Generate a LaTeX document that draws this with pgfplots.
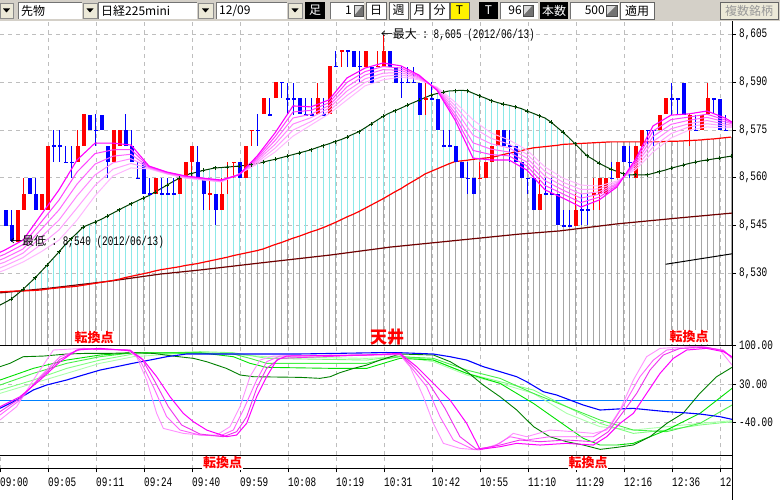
\documentclass[border=0pt]{standalone}
\usepackage{fontspec}
\setmainfont{Liberation Sans}
\newfontfamily\cjk{Noto Sans CJK JP}
\newfontfamily\monot[FakeStretch=0.72]{Liberation Mono}
\usepackage{pgfplots}
\usepackage{pgfplotstable}
\pgfplotsset{compat=1.18}

\definecolor{tbg}{RGB}{212,208,200}
\definecolor{btn}{RGB}{236,233,216}
\definecolor{vgray}{RGB}{166,166,166}
\definecolor{vcyan}{RGB}{140,232,232}
\definecolor{dkgreen}{RGB}{0,64,0}
\definecolor{maroon}{RGB}{112,0,0}
\definecolor{cred}{RGB}{255,0,0}
\definecolor{cblue}{RGB}{0,0,255}
\definecolor{fan0}{RGB}{255,0,255}
\definecolor{fan1}{RGB}{255,64,255}
\definecolor{fan2}{RGB}{255,102,255}
\definecolor{fan3}{RGB}{255,136,255}
\definecolor{fan4}{RGB}{255,160,255}
\definecolor{fan5}{RGB}{255,184,255}
\definecolor{zeroblue}{RGB}{0,128,255}
\definecolor{gridgray}{RGB}{190,190,190}
\definecolor{oscdg}{RGB}{0,128,0}
\definecolor{g1}{RGB}{0,225,0}
\definecolor{g2}{RGB}{70,240,70}
\definecolor{g3}{RGB}{128,255,128}
\definecolor{g4}{RGB}{170,255,170}
\definecolor{p1}{RGB}{255,144,255}
\definecolor{p2}{RGB}{255,96,255}
\definecolor{p4}{RGB}{240,48,240}
\definecolor{p3}{RGB}{255,0,255}

% candles: i open high low close up(1)/down(0)
\pgfplotstableread{
i o h l c u
0 8550 8550 8545 8545 0
1 8545 8550 8540 8540 0
2 8540 8550 8540 8550 1
3 8550 8560 8550 8555 1
4 8560 8560 8555 8555 0
5 8555 8560 8550 8550 0
6 8550 8555 8550 8555 1
7 8550 8570 8550 8570 1
8 8570 8575 8565 8570 0
9 8570 8575 8565 8570 0
10 8565 8570 8565 8565 0
11 8565 8570 8560 8565 0
12 8565 8575 8565 8570 1
13 8570 8580 8570 8580 1
14 8580 8580 8575 8575 0
15 8575 8580 8570 8575 0
16 8580 8580 8575 8575 0
17 8570 8570 8560 8565 0
18 8565 8575 8565 8575 1
19 8570 8575 8570 8575 1
20 8575 8580 8570 8570 0
21 8570 8575 8565 8565 0
22 8560 8565 8560 8560 0
23 8565 8565 8555 8555 0
24 8555 8560 8555 8555 0
25 8555 8560 8555 8560 1
26 8555 8560 8555 8555 0
27 8555 8560 8555 8555 0
28 8555 8560 8555 8555 0
29 8555 8560 8555 8560 1
30 8560 8565 8560 8565 1
31 8565 8570 8560 8570 1
32 8565 8570 8560 8560 0
33 8560 8560 8550 8555 0
34 8555 8560 8550 8555 1
35 8555 8555 8545 8550 0
36 8550 8560 8550 8555 1
37 8560 8565 8555 8560 1
38 8565 8565 8560 8565 1
39 8565 8565 8560 8560 0
40 8560 8570 8560 8570 1
41 8575 8575 8570 8575 1
42 8575 8580 8570 8575 0
43 8580 8585 8580 8585 1
44 8580 8585 8580 8580 0
45 8585 8590 8585 8590 1
46 8590 8590 8585 8590 0
47 8585 8590 8580 8585 0
48 8585 8590 8580 8585 0
49 8585 8585 8580 8580 0
50 8580 8585 8580 8580 0
51 8580 8585 8580 8580 0
52 8580 8590 8580 8585 1
53 8580 8585 8580 8580 0
54 8580 8595 8580 8595 1
55 8595 8600 8595 8595 0
56 8600 8600 8595 8600 1
57 8600 8600 8595 8600 0
58 8600 8600 8595 8595 0
59 8595 8600 8590 8595 0
60 8595 8600 8595 8600 1
61 8595 8595 8590 8590 0
62 8595 8600 8595 8595 1
63 8595 8605 8595 8600 1
64 8600 8600 8595 8595 0
65 8595 8595 8590 8590 0
66 8590 8595 8585 8590 0
67 8590 8595 8590 8590 0
68 8590 8595 8590 8590 0
69 8590 8590 8580 8580 0
70 8585 8590 8580 8585 1
71 8585 8590 8585 8585 0
72 8585 8585 8575 8575 0
73 8570 8575 8570 8570 0
74 8570 8575 8570 8570 0
75 8570 8570 8565 8565 0
76 8565 8565 8560 8560 0
77 8560 8565 8555 8560 0
78 8560 8560 8555 8555 0
79 8560 8565 8560 8560 1
80 8560 8565 8560 8565 1
81 8565 8570 8565 8570 1
82 8570 8575 8570 8575 1
83 8575 8575 8570 8570 0
84 8570 8575 8565 8570 0
85 8570 8570 8565 8565 0
86 8565 8565 8560 8560 0
87 8560 8560 8555 8560 0
88 8560 8560 8550 8550 0
89 8550 8560 8550 8555 1
90 8555 8560 8555 8555 0
91 8555 8560 8555 8555 0
92 8555 8555 8545 8545 0
93 8545 8550 8545 8545 0
94 8545 8550 8545 8545 0
95 8545 8555 8545 8550 1
96 8550 8555 8545 8550 0
97 8550 8555 8545 8550 0
98 8555 8560 8550 8555 1
99 8555 8560 8550 8560 1
100 8555 8560 8555 8560 1
101 8560 8565 8560 8560 0
102 8560 8565 8560 8565 1
103 8570 8570 8565 8565 0
104 8565 8570 8560 8565 0
105 8560 8570 8560 8570 1
106 8570 8575 8565 8575 1
107 8575 8575 8570 8575 0
108 8575 8575 8570 8575 0
109 8575 8580 8575 8580 1
110 8580 8585 8580 8585 1
111 8585 8590 8580 8585 0
112 8585 8585 8580 8585 0
113 8590 8590 8580 8580 0
114 8575 8580 8570 8580 1
115 8575 8580 8575 8575 0
116 8575 8580 8575 8580 1
117 8580 8590 8580 8585 1
118 8585 8585 8580 8585 0
119 8585 8585 8575 8575 0
120 8575 8580 8575 8575 0
}\candles

% per-bar long moving averages: r = red MA, g = dark green MA
\pgfplotstableread{
i r g
-1 8524.1 8519.8
0 8524.2 8520.8
1 8524.3 8521.8
2 8524.4 8523.3
3 8524.4 8524.9
4 8524.5 8526.7
5 8524.6 8528.5
6 8524.7 8530.5
7 8525.0 8532.5
8 8525.2 8534.6
9 8525.4 8536.7
10 8525.6 8538.9
11 8525.7 8540.8
12 8525.9 8542.6
13 8526.2 8544.5
14 8526.5 8545.3
15 8526.8 8546.1
16 8527.1 8546.9
17 8527.4 8547.9
18 8527.7 8548.9
19 8528.1 8549.9
20 8528.6 8550.9
21 8529.0 8551.8
22 8529.4 8552.7
23 8529.8 8553.6
24 8530.2 8554.4
25 8530.7 8555.5
26 8531.1 8556.6
27 8531.4 8557.7
28 8531.7 8558.8
29 8532.0 8559.8
30 8532.4 8560.8
31 8532.7 8561.3
32 8533.0 8561.8
33 8533.4 8562.3
34 8533.8 8562.7
35 8534.2 8563.1
36 8534.6 8563.2
37 8535.0 8563.4
38 8535.5 8563.5
39 8535.9 8563.7
40 8536.3 8563.9
41 8536.7 8564.1
42 8537.1 8564.5
43 8537.6 8564.9
44 8538.3 8565.4
45 8539.0 8565.8
46 8539.6 8566.3
47 8540.3 8566.8
48 8541.0 8567.3
49 8541.6 8567.8
50 8542.3 8568.3
51 8543.0 8568.8
52 8543.6 8569.5
53 8544.3 8570.1
54 8545.1 8570.7
55 8545.9 8571.4
56 8546.8 8572.0
57 8547.7 8572.8
58 8548.5 8573.7
59 8549.4 8574.5
60 8550.4 8575.7
61 8551.4 8576.9
62 8552.4 8578.1
63 8553.4 8579.3
64 8554.5 8580.3
65 8555.6 8581.1
66 8556.6 8581.9
67 8557.8 8582.8
68 8558.9 8583.6
69 8560.0 8584.4
70 8561.2 8585.2
71 8562.0 8586.0
72 8562.8 8586.5
73 8563.6 8586.9
74 8564.4 8587.3
75 8565.1 8587.4
76 8565.3 8587.5
77 8565.5 8587.4
78 8565.8 8586.6
79 8566.0 8585.8
80 8566.2 8585.1
81 8566.4 8584.3
82 8566.8 8583.7
83 8567.3 8583.2
84 8567.7 8582.8
85 8568.1 8582.3
86 8568.5 8581.8
87 8569.0 8581.0
88 8569.4 8580.3
89 8569.6 8579.5
90 8569.8 8578.8
91 8570.0 8577.5
92 8570.2 8575.9
93 8570.5 8574.3
94 8570.6 8572.6
95 8570.7 8570.7
96 8570.8 8568.8
97 8570.9 8566.9
98 8571.0 8565.8
99 8571.1 8564.6
100 8571.2 8563.6
101 8571.3 8562.7
102 8571.3 8562.0
103 8571.3 8561.3
104 8571.3 8560.9
105 8571.3 8560.9
106 8571.3 8560.9
107 8571.3 8560.9
108 8571.3 8561.4
109 8571.3 8561.9
110 8571.4 8562.4
111 8571.5 8563.0
112 8571.5 8563.5
113 8571.6 8564.0
114 8571.7 8564.5
115 8571.8 8564.9
116 8571.9 8565.3
117 8572.1 8565.6
118 8572.2 8565.9
119 8572.4 8566.2
120 8572.6 8566.5
121 8572.8 8566.8
}\bars

% short moving-average fan (fast F ... slow S)
\pgfplotstableread{
i F L1 L2 L3 L4 S
-0.9 8536.5 8535.3 8534.1 8532.9 8531.6 8530.4
0 8537.3 8536.0 8534.8 8533.5 8532.3 8531.0
3 8540.4 8539.0 8537.6 8536.3 8534.9 8533.5
6 8548.3 8546.0 8543.7 8541.3 8539.0 8536.7
9 8556.2 8553.0 8549.9 8546.7 8543.6 8540.4
12 8565.6 8561.8 8558.0 8554.3 8550.5 8546.7
15 8570.9 8567.6 8564.3 8560.9 8557.6 8554.3
18 8570.9 8568.8 8566.8 8564.7 8562.7 8560.6
21 8570.3 8568.9 8567.4 8566.0 8564.5 8563.1
24 8563.7 8563.5 8563.3 8563.2 8563.0 8562.8
27 8561.8 8561.7 8561.6 8561.4 8561.3 8561.2
30 8560.6 8560.5 8560.3 8560.2 8560.0 8559.9
33 8559.9 8559.8 8559.7 8559.5 8559.4 8559.3
36 8559.3 8559.2 8559.1 8558.9 8558.8 8558.7
39 8560.9 8561.0 8561.0 8561.1 8561.1 8561.2
42 8566.8 8566.3 8565.8 8565.3 8564.8 8564.3
45 8574.1 8572.9 8571.7 8570.5 8569.3 8568.1
48 8582.6 8580.7 8578.8 8576.9 8575.0 8573.1
51 8582.3 8581.2 8580.0 8578.9 8577.7 8576.6
54 8584.5 8583.6 8582.7 8581.9 8581.0 8580.1
57 8591.4 8590.0 8588.6 8587.3 8585.9 8584.5
60 8594.5 8593.4 8592.3 8591.1 8590.0 8588.9
63 8596.1 8595.0 8594.0 8592.9 8591.9 8590.8
66 8595.2 8594.5 8593.8 8593.1 8592.4 8591.7
69 8592.3 8592.0 8591.7 8591.4 8591.1 8590.8
72 8587.5 8587.7 8587.9 8588.1 8588.3 8588.5
75 8578.2 8579.3 8580.4 8581.6 8582.7 8583.8
78 8566.2 8568.6 8571.0 8573.4 8575.8 8578.2
81 8565.6 8567.3 8569.0 8570.7 8572.4 8574.1
84 8565.6 8566.9 8568.1 8569.4 8570.6 8571.9
87 8562.4 8563.7 8564.9 8566.2 8567.4 8568.7
90 8556.2 8557.6 8559.1 8560.5 8562.0 8563.4
93 8553.6 8554.9 8556.1 8557.4 8558.6 8559.9
96 8550.8 8552.2 8553.6 8554.9 8556.3 8557.7
99 8553.0 8553.9 8554.8 8555.6 8556.5 8557.4
102 8557.1 8557.5 8557.9 8558.2 8558.6 8559.0
105 8565.6 8565.0 8564.3 8563.7 8563.0 8562.4
108 8576.3 8574.7 8573.0 8571.4 8569.7 8568.1
111 8579.7 8578.3 8576.8 8575.4 8573.9 8572.5
114 8580.1 8579.1 8578.1 8577.0 8576.0 8575.0
117 8581.0 8580.0 8579.0 8578.0 8577.0 8576.0
120 8578.8 8578.2 8577.6 8576.9 8576.3 8575.7
121.2 8577.5 8577.2 8576.9 8576.5 8576.2 8575.9
}\fan

\pgfplotstableread{
i p
-0.83 8523.8
7.5 8525.3
17.5 8527.5
25.8 8529.7
32.5 8531.0
42.5 8533.2
54.2 8535.7
64.2 8538.2
74.2 8540.1
85.8 8542.3
92.5 8543.3
102 8545.5
112.5 8547.4
121.2 8548.9
}\brownma

\pgfplotsset{
 base/.style={scale only axis, anchor=south west, width=732pt,
   xmin=-0.8333, xmax=121.1667, axis line style={draw=none},
   xtick style={draw=none},
   ytick pos=right, yticklabel pos=right, tick align=outside,
   major tick length=4pt,
   ytick style={black, line width=0.8pt},
   yticklabel style={font=\monot\fontsize{13}{13}\selectfont, anchor=west, inner sep=0pt, xshift=3pt},
   major grid style={gridgray, dash pattern=on 4pt off 4pt, line width=0.9pt},
   clip=true},
}

\newcommand\tbfield[2]{\fill[white] (#1,481) rectangle (#2,498);
  \draw[line width=0.8pt, black!55] (#1,481.4) -- (#1,497.6) -- (#2,497.6);}
\newcommand\tbdrop[2]{\fill[btn] (#1,482) rectangle (#2,497);
  \draw[black!45, line width=0.6pt] (#1,482) rectangle (#2,497);
  \fill[black] ({(#1+#2)/2-3.5},491.5) -- ({(#1+#2)/2+3.5},491.5) -- ({(#1+#2)/2},487.5) -- cycle;}
\newcommand\tbbtn[3]{\fill[#3] (#1,481) rectangle (#2,498);
  \draw[black!60, line width=0.7pt] (#1,481) rectangle (#2,498);}
\newcommand\tbspin[2]{\fill[black!15] (#1,484) rectangle (#2,495);
  \fill[black!55] (#2,484) -- (#2,495) -- (#1,484) -- cycle;
  \draw[black!70, line width=0.5pt] (#1,484) rectangle (#2,495);}

\begin{document}
\begin{tikzpicture}[x=1pt,y=1pt]
\useasboundingbox (0,0) rectangle (780,500);
\fill[white] (0,0) rectangle (780,500);

% ---------- upper price panel ----------
\begin{axis}[base, at={(0pt,154.3pt)}, height=324.7pt, ymin=8507.19, ymax=8609.31,
  xtick={7.1667,15.1667,23.1667,31.1667,39.1667,47.1667,55.1667,63.1667,71.1667,79.1667,87.1667,95.1667,103.1667,111.1667,119.1667},
  xticklabels={},
  ytick={8530,8545,8560,8575,8590,8605},
  yticklabels={{8,530},{8,545},{8,560},{8,575},{8,590},{8,605}},
  xmajorgrids, ymajorgrids]
% vertical background lines: gray up to the red MA, cyan from the red MA up to the green MA
\addplot[draw=none, forget plot, error bars/.cd, y dir=minus, y explicit, error mark=none,
  error bar style={draw=vgray, line width=1pt}]
  table[x expr={\thisrow{i}+0.0833}, y=r, y error minus expr={\thisrow{r}-8500}]{\bars};
\addplot[draw=none, forget plot, error bars/.cd, y dir=minus, y explicit, error mark=none,
  error bar style={draw=vcyan, line width=1pt}]
  table[x expr={\thisrow{i}+0.0833}, y=g, y error minus expr={max(\thisrow{g}-\thisrow{r},0)}]{\bars};
% long moving averages
\addplot[maroon, line width=1.2pt] table[x=i,y=p]{\brownma};
\addplot[cred, line width=1.2pt] table[x=i,y=r]{\bars};
\addplot[black, line width=1pt] coordinates {(110.1,8532.8) (121.2,8536.1)};
\addplot[dkgreen, line width=1pt] table[x=i,y=g]{\bars};
\addplot[only marks, mark=+, mark size=2pt, mark options={draw=dkgreen, line width=0.9pt},
  each nth point=2, filter discard warning=false] table[x=i,y=g]{\bars};
% candles: wicks
\addplot[draw=none, forget plot, restrict expr to domain={\thisrow{u}}{1:1},
  error bars/.cd, y dir=both, y explicit, error mark=none, error bar style={draw=cred, line width=1pt}]
  table[x expr={\thisrow{i}+0.0833}, y expr={(\thisrow{h}+\thisrow{l})/2}, y error expr={(\thisrow{h}-\thisrow{l})/2}]{\candles};
\addplot[draw=none, forget plot, restrict expr to domain={\thisrow{u}}{0:0},
  error bars/.cd, y dir=both, y explicit, error mark=none, error bar style={draw=cblue, line width=1pt}]
  table[x expr={\thisrow{i}+0.0833}, y expr={(\thisrow{h}+\thisrow{l})/2}, y error expr={(\thisrow{h}-\thisrow{l})/2}]{\candles};
% candles: bodies
\addplot[draw=none, forget plot, restrict expr to domain={\thisrow{u}}{1:1},
  error bars/.cd, y dir=both, y explicit, error mark=none, error bar style={draw=cred, line width=4pt}]
  table[x expr={\thisrow{i}+0.0833}, y expr={(\thisrow{o}+\thisrow{c})/2}, y error expr={max(abs(\thisrow{o}-\thisrow{c})/2,0.17)}]{\candles};
\addplot[draw=none, forget plot, restrict expr to domain={\thisrow{u}}{0:0},
  error bars/.cd, y dir=both, y explicit, error mark=none, error bar style={draw=cblue, line width=4pt}]
  table[x expr={\thisrow{i}+0.0833}, y expr={(\thisrow{o}+\thisrow{c})/2}, y error expr={max(abs(\thisrow{o}-\thisrow{c})/2,0.17)}]{\candles};
% fan
\addplot[fan5, line width=1pt] table[x=i,y=S]{\fan};
\addplot[fan4, line width=1pt] table[x=i,y=L4]{\fan};
\addplot[fan3, line width=1pt] table[x=i,y=L3]{\fan};
\addplot[fan2, line width=1pt] table[x=i,y=L2]{\fan};
\addplot[fan1, line width=1pt] table[x=i,y=L1]{\fan};
\addplot[fan0, line width=1.1pt] table[x=i,y=F]{\fan};
\node[anchor=west, inner sep=0pt] at (axis cs:62.6,8605) {{\cjk\fontsize{12}{12}\selectfont ←最大}{\monot\fontsize{13}{13}\selectfont\ :\ 8,605\ (2012/06/13)}};
\node[anchor=west, inner sep=0pt] at (axis cs:0.8,8540) {{\cjk\fontsize{12}{12}\selectfont ←最低}{\monot\fontsize{13}{13}\selectfont\ :\ 8,540\ (2012/06/13)}};
\end{axis}

% ---------- lower oscillator panel ----------
\begin{axis}[base, at={(0pt,44.7pt)}, height=109.6pt, ymin=-100, ymax=100,
  xtick={7.1667,15.1667,23.1667,31.1667,39.1667,47.1667,55.1667,63.1667,71.1667,79.1667,87.1667,95.1667,103.1667,111.1667,119.1667},
  xticklabels={},
  ytick={-40,30,100}, yticklabels={-40.00,30.00,100.00},
  xmajorgrids, ymajorgrids]
\addplot[zeroblue, line width=1pt] coordinates {(-1,0) (122,0)};
\addplot[g4, line width=0.9pt] coordinates {(-0.83,13.0) (4.72,31.3) (10.28,49.5) (15.83,67.8) (21.39,79.9) (32.5,88.4) (43.61,79.9) (60.28,76.9) (65.83,79.9) (71.39,70.8) (76.94,46.5) (82.5,31.3) (88.06,13.0) (93.61,-23.5) (99.17,-47.8) (104.72,-53.9) (110.28,-47.8) (115.83,-41.7) (121.17,-36.9)};
\addplot[g3, line width=0.9pt] coordinates {(-0.83,19.1) (4.72,37.3) (10.28,58.6) (15.83,73.8) (21.39,84.8) (32.5,89.1) (38.06,87.2) (43.61,76.9) (60.28,73.8) (65.83,81.1) (71.39,73.8) (76.94,49.5) (82.5,34.3) (88.06,19.1) (93.61,-11.3) (99.17,-41.7) (104.72,-60.0) (110.28,-53.9) (115.83,-44.7) (121.17,-38.7)};
\addplot[g2, line width=0.9pt] coordinates {(-0.83,28.2) (4.72,49.5) (10.28,67.8) (15.83,79.9) (21.39,87.2) (38.06,84.8) (40.83,76.9) (43.61,67.8) (60.28,67.8) (63.06,75.1) (65.83,79.9) (71.39,76.9) (76.94,55.6) (82.5,40.4) (88.06,13.0) (93.61,-11.3) (99.17,-35.6) (104.72,-53.9) (110.28,-56.9) (115.83,-41.7) (121.17,-8.3)};
\addplot[g1, line width=0.9pt] coordinates {(-0.83,37.3) (4.72,58.6) (10.28,73.8) (15.83,83.0) (21.39,87.2) (32.5,87.2) (38.06,79.9) (40.83,67.8) (43.61,60.5) (54.72,58.6) (60.28,58.6) (63.06,67.8) (65.83,76.9) (71.39,73.8) (76.94,49.5) (82.5,31.3) (88.06,-5.2) (93.61,-47.8) (96.39,-69.1) (99.17,-81.3) (101.94,-81.3) (104.72,-78.2) (107.5,-66.1) (110.28,-53.9) (115.83,-23.5) (121.17,22.1)};
\addplot[oscdg, line width=0.9pt] coordinates {(-0.83,61.7) (0.83,67.8) (3.05,79.9) (6.4,81.1) (10.3,84.8) (13.6,86.0) (17.5,86.0) (21.4,87.2) (24.7,86.0) (28,81.1) (31.4,76.9) (33.6,70.8) (36.9,58.6) (39.2,46.5) (41.4,43.4) (49.2,42.2) (52.5,40.4) (54.2,43.4) (55.8,50.7) (58.1,58.6) (60.3,64.7) (62.5,73.8) (65.8,84.8) (71.4,83.0) (74.2,70.8) (77,52.6) (79.7,28.2) (82.5,6.9) (85.3,-17.4) (88.1,-47.8) (90.8,-66.1) (93.6,-75.2) (96.4,-81.3) (99.2,-89.2) (102,-85.5) (104.7,-81.3) (107.5,-66.1) (110.3,-41.7) (113,-23.5) (115.8,13.0) (118.6,43.4) (121.17,60.5)};
\addplot[cblue, line width=1.1pt] coordinates {(-0.83,-14.2) (1.95,0.9) (4.72,19.2) (6.95,28.3) (10.28,37.4) (13,46.4) (15.83,55.5) (18.6,61.7) (21.3,67.9) (24.2,73.9) (26.95,79.9) (30.3,84.9) (49.2,84.9) (63.6,87.5) (65.83,87.2) (71.39,84.8) (74.17,79.9) (76.94,73.8) (79.72,61.7) (82.5,52.6) (85.28,43.4) (86.94,34.3) (89.72,16.1) (91.94,10.0) (94.17,0.8) (96.39,-8.3) (99.17,-17.4) (101.94,-15.6) (104.72,-14.4) (107.5,-17.4) (110.28,-20.4) (113.06,-22.3) (115.83,-24.7) (119.17,-29.6) (121.17,-34.4)};
\addplot[p1, line width=0.9pt] coordinates {(-0.83,-35.6) (1.94,-11.3) (4.72,37.3) (8.06,92.1) (13.06,95.1) (20.28,92.1) (21.94,79.9) (23.61,37.3) (25.28,-23.5) (26.39,-50.9) (29.72,-60.0) (32.5,-63.0) (35.28,-63.0) (37.5,-47.8) (39.17,-11.3) (40.83,43.4) (42.5,73.8) (44.72,81.1) (60.28,83.0) (65.83,83.0) (67.5,61.7) (69.72,6.9) (71.39,-41.7) (73.06,-78.2) (75.83,-87.4) (79.17,-90.4) (82.5,-78.2) (84.72,-60.0) (86.94,-66.1) (90.83,-53.9) (94.72,-56.9) (98.06,-60.0) (100.28,-53.9) (102.5,-17.4) (104.72,37.3) (106.94,79.9) (109.17,95.1) (115.83,99.4) (119.17,92.1) (121.17,64.7)};
\addplot[p2, line width=0.9pt] coordinates {(-0.83,-26.5) (2.5,0.8) (5.83,43.4) (9.17,79.9) (13.06,95.1) (20.83,92.1) (22.5,73.8) (24.72,25.2) (26.94,-29.6) (29.17,-53.9) (32.5,-63.0) (35.83,-64.8) (38.06,-53.9) (39.72,-17.4) (41.94,37.3) (43.61,70.8) (45.83,81.1) (60.28,83.0) (65.83,84.8) (68.06,55.6) (70.28,25.2) (72.5,-29.6) (74.72,-72.1) (78.06,-89.2) (81.39,-84.3) (84.17,-66.1) (86.94,-72.1) (90.83,-66.1) (94.72,-66.1) (98.06,-66.1) (100.83,-47.8) (103.61,0.8) (105.83,43.4) (108.06,73.8) (110.28,92.1) (115.83,98.2) (119.72,92.1) (121.17,76.9)};
\addplot[p4, line width=0.9pt] coordinates {(-0.83,-20.4) (2.5,3.9) (5.83,40.4) (9.17,75.1) (12.5,93.9) (20.83,92.1) (22.78,76.9) (25,34.3) (27.22,-11.3) (29.44,-44.7) (32.5,-61.2) (36.39,-66.1) (38.61,-56.9) (40.28,-29.6) (41.94,22.1) (43.61,58.6) (45.83,76.9) (60.28,83.0) (65.83,84.8) (68.33,58.6) (70.83,28.2) (73.33,-14.4) (75.83,-66.1) (78.61,-89.2) (82.5,-81.3) (85.83,-72.1) (89.17,-75.2) (93.61,-72.1) (98.06,-75.2) (100.56,-56.9) (103.06,-20.4) (105.28,13.0) (107.5,55.6) (109.72,83.0) (112.5,95.1) (116.94,97.0) (119.72,90.9) (121.17,78.7)};
\addplot[p3, line width=1pt] coordinates {(-0.83,-11.3) (2.5,6.9) (5.83,37.3) (9.17,70.8) (11.94,92.1) (15.83,95.1) (20.83,90.9) (23.06,73.8) (25.28,43.4) (27.5,6.9) (29.72,-23.5) (31.39,-38.7) (33.61,-53.9) (36.94,-66.1) (38.61,-63.0) (40.28,-41.7) (41.94,6.9) (43.61,43.4) (45.28,73.8) (46.94,81.1) (60.28,83.0) (65.83,86.0) (68.61,61.7) (71.39,31.3) (74.17,0.8) (76.94,-41.7) (79.17,-89.2) (82.5,-84.3) (85.28,-78.2) (89.17,-81.3) (93.61,-78.2) (98.06,-81.3) (100.28,-66.1) (102.5,-41.7) (104.72,-23.5) (106.94,13.0) (109.17,49.5) (111.39,76.9) (113.61,92.1) (116.94,95.1) (119.72,89.1) (121.17,79.9)};
\end{axis}

% ---------- time axis ----------
\begin{axis}[base, at={(0pt,31pt)}, height=13.7pt, ymin=0, ymax=1, ytick=\empty,
  xtick={-0.8333,7.1667,15.1667,23.1667,31.1667,39.1667,47.1667,55.1667,63.1667,71.1667,79.1667,87.1667,95.1667,103.1667,111.1667,119.1667},
  xticklabels={09:00,09:05,09:11,09:24,09:40,09:59,10:08,10:19,10:31,10:42,10:55,11:10,11:29,12:16,12:36,12},
  xtick pos=lower, xmajorgrids, xtick style={draw=black, line width=0.8pt}, major tick length=3.5pt,
  xticklabel style={font=\monot\fontsize{13}{13}\selectfont, anchor=north west, inner sep=0pt, yshift=-5.5pt}]
\addplot[draw=none] coordinates {(0,0.5)};
\end{axis}

% panel borders
\draw[black, line width=1pt] (0,154.3) -- (732,154.3);
\draw[black, line width=1pt] (0,44.7) -- (732,44.7);
\draw[black, line width=1pt] (0,31) -- (732,31);
\draw[black, line width=1pt] (732,0) -- (732,479);

% red annotations
\node[font=\cjk\bfseries\fontsize{13}{13}\selectfont, text=red, fill=white, inner sep=0.8pt] at (94,162) {転換点};
\node[font=\cjk\bfseries\fontsize{13}{13}\selectfont, text=red, fill=white, inner sep=0.8pt] at (689,163) {転換点};
\node[font=\cjk\bfseries\fontsize{13}{13}\selectfont, text=red, fill=white, inner sep=0.8pt] at (222.7,37) {転換点};
\node[font=\cjk\bfseries\fontsize{13}{13}\selectfont, text=red, fill=white, inner sep=0.8pt] at (588,37) {転換点};
\node[font=\cjk\bfseries\fontsize{17}{17}\selectfont, text=red, inner sep=0pt] at (387,163) {天井};

% ---------- toolbar ----------
\fill[tbg] (0,479) rectangle (780,500);
\tbdrop{0}{13}
\tbfield{18}{82}
\node[anchor=west, inner sep=0pt, font=\cjk\fontsize{12}{12}\selectfont] at (21,489.5) {先物};
\tbdrop{83}{97}
\tbfield{98}{197}
\node[anchor=west, inner sep=0pt, font=\cjk\fontsize{12}{12}\selectfont] at (101,489.5) {日経225mini};
\tbdrop{198}{213}
\tbfield{216}{287}
\node[anchor=west, inner sep=0pt, font=\cjk\fontsize{12}{12}\selectfont] at (219,489.5) {12/09};
\tbdrop{288}{302}
\fill[black] (305,481) rectangle (325,498);
\node[text=white, inner sep=0pt, font=\cjk\fontsize{12}{12}\selectfont] at (315,489.5) {足};
\tbfield{330}{364}
\node[anchor=east, inner sep=0pt, font=\cjk\fontsize{12}{12}\selectfont] at (352,489.5) {1};
\tbspin{354}{363}
\tbbtn{366}{386}{white}
\node[inner sep=0pt, font=\cjk\fontsize{12}{12}\selectfont] at (376,489.5) {日};
\tbbtn{389}{408}{white}
\node[inner sep=0pt, font=\cjk\fontsize{12}{12}\selectfont] at (398.5,489.5) {週};
\tbbtn{410}{429}{white}
\node[inner sep=0pt, font=\cjk\fontsize{12}{12}\selectfont] at (419.5,489.5) {月};
\tbbtn{430}{449}{white}
\node[inner sep=0pt, font=\cjk\fontsize{12}{12}\selectfont] at (439.5,489.5) {分};
\tbbtn{450}{469}{yellow}
\node[inner sep=0pt, font=\cjk\fontsize{12}{12}\selectfont] at (459.5,489.5) {T};
\fill[black] (479,481) rectangle (498,498);
\node[text=white, inner sep=0pt, font=\cjk\fontsize{12}{12}\selectfont] at (488.5,489.5) {T};
\tbfield{500}{538}
\node[anchor=east, inner sep=0pt, font=\cjk\fontsize{12}{12}\selectfont] at (522,489.5) {96};
\tbspin{523}{533}
\fill[black] (540,481) rectangle (568,498);
\node[text=white, inner sep=0pt, font=\cjk\fontsize{12}{12}\selectfont] at (554,489.5) {本数};
\tbfield{570}{619}
\node[anchor=east, inner sep=0pt, font=\cjk\fontsize{12}{12}\selectfont] at (605,489.5) {500};
\tbspin{606}{617}
\tbbtn{620}{654}{white}
\node[inner sep=0pt, font=\cjk\fontsize{12}{12}\selectfont] at (637,489.5) {適用};
\tbbtn{720}{778}{btn}
\node[inner sep=0pt, text=black!40, font=\cjk\fontsize{12}{12}\selectfont] at (749,489.5) {複数銘柄};
\end{tikzpicture}
\end{document}
